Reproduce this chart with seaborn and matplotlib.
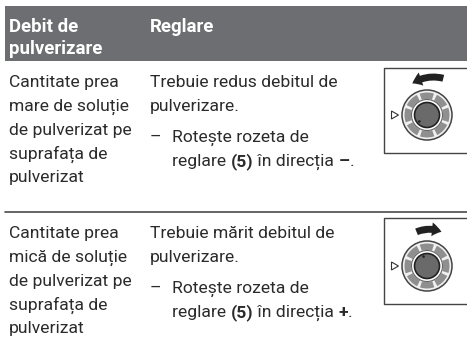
import numpy as np
import matplotlib
matplotlib.use('Agg')
import matplotlib.pyplot as plt
from matplotlib.patches import Circle, Wedge, Rectangle, Polygon, FancyArrowPatch
import seaborn as sns

header_left = ['Debit de', 'pulverizare']
header_right = 'Reglare'
row1_left = ['Cantitate prea', 'mare de soluție', 'de pulverizat pe', 'suprafața de', 'pulverizat']
row2_left = ['Cantitate prea', 'mică de soluție', 'de pulverizat pe', 'suprafața de', 'pulverizat']
row1_right = ['Trebuie redus debitul de', 'pulverizare.']
row2_right = ['Trebuie mărit debitul de', 'pulverizare.']
step_line1 = 'Rotește rozeta de'
row1_step = [('reglare ', 'normal'), ('(5)', 'bold'), (' în direcția ', 'normal'), ('–', 'bold'), ('.', 'normal')]
row2_step = [('reglare ', 'normal'), ('(5)', 'bold'), (' în direcția ', 'normal'), ('+', 'bold'), ('.', 'normal')]

sns.set_theme(style='white')
plt.rcParams['font.family'] = ['Roboto', 'DejaVu Sans']

TXT = '#2b2b2b'
FS = 12.6
FS_HEAD = 13.4

fig = plt.figure(figsize=(4.67, 3.53), dpi=100)
ax = fig.add_axes([0, 0, 1, 1])
ax.set_xlim(0, 467)
ax.set_ylim(353, 0)
ax.axis('off')

# header band
ax.add_patch(Rectangle((5, 6), 462, 55, color='#6d6e71', lw=0))
ax.text(9, 32, header_left[0], color='white', fontsize=FS_HEAD, fontweight='bold', va='baseline')
ax.text(9, 54, header_left[1], color='white', fontsize=FS_HEAD, fontweight='bold', va='baseline')
ax.text(150, 32, header_right, color='white', fontsize=FS_HEAD, fontweight='bold', va='baseline')

# rule between rows
ax.plot([5, 467], [212, 212], color='#4a4a4a', lw=1.2)


def mixed(x, y, runs):
    r = fig.canvas.get_renderer()
    for s, w in runs:
        t = ax.text(x, y, s.replace(' ', '\u00a0'), color=TXT, fontsize=FS, fontweight=w, va='baseline')
        bb = t.get_window_extent(r)
        x = ax.transData.inverted().transform((bb.x1, bb.y0))[0]


def dial(cx, cy, angle):
    ax.add_patch(Circle((cx, cy), 25, fc='#f0f0f0', ec='#444444', lw=1.1))
    for a in range(0, 360, 45):
        ax.add_patch(Wedge((cx, cy), 22.5, a + 4 + 22, a + 41 + 22, width=6.5, fc='#8f8f8f', ec='none'))
    ax.add_patch(Circle((cx, cy), 15.5, fc='white', ec='#666666', lw=0.8))
    ax.add_patch(Circle((cx, cy), 12.5, fc='#6a6a6a', ec='#222222', lw=1.2))
    px = cx + 10 * np.cos(np.radians(angle))
    py = cy + 10 * np.sin(np.radians(angle))
    ax.add_patch(Circle((px, py), 1.3, fc='#222222', ec='none'))
    ax.add_patch(Polygon([(391.5, cy - 4), (391.5, cy + 4), (398.5, cy)], fc='white', ec='#333333', lw=0.8))


def box(y0, y1):
    ax.plot([467, 384, 384, 467], [y0, y0, y1, y1], color='#444444', lw=1.0)


row_tops = [87, 238]
for top, left, right, step, boxy, cy, ang in [
    (row_tops[0], row1_left, row1_right, row1_step, (68, 153), 115, 140),
    (row_tops[1], row2_left, row2_right, row2_step, (218, 304), 266, 250),
]:
    for i, s in enumerate(left):
        ax.text(9, top + i * 23.8, s, color=TXT, fontsize=FS, va='baseline')
    for i, s in enumerate(right):
        ax.text(150, top + i * 24, s, color=TXT, fontsize=FS, va='baseline')
    ax.text(150, top + 55, '–', color=TXT, fontsize=FS, va='baseline')
    ax.text(172, top + 55, step_line1, color=TXT, fontsize=FS, va='baseline')
    mixed(172, top + 79, step)
    box(*boxy)
    dial(427, cy, ang)

# rotation arrows
ax.add_patch(FancyArrowPatch((446, 79), (410, 85), connectionstyle='arc3,rad=0.25',
                             arrowstyle='simple,head_width=10,head_length=7,tail_width=5',
                             color='#222222', lw=0, mutation_scale=1))
ax.add_patch(FancyArrowPatch((414, 233), (444, 233), connectionstyle='arc3,rad=-0.25',
                             arrowstyle='simple,head_width=10,head_length=7,tail_width=5',
                             color='#222222', lw=0, mutation_scale=1))

sns.despine(ax=ax, left=True, bottom=True)
fig.savefig('out.png', dpi=100)
